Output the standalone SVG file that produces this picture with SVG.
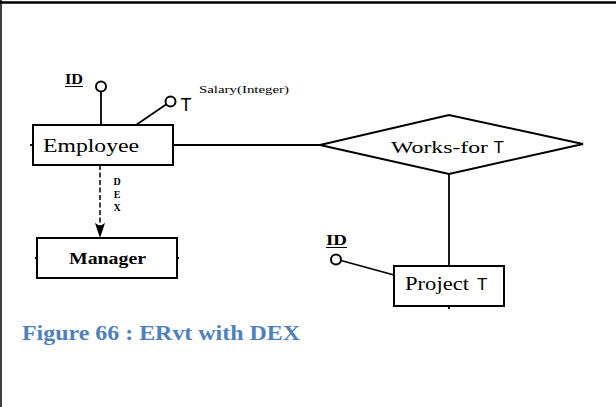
<svg xmlns="http://www.w3.org/2000/svg" width="616" height="407" viewBox="0 0 616 407">
<defs>
<style>
.box{fill:#fff;stroke:#000;stroke-width:2}
.ln{fill:none;stroke:#000;stroke-width:1.8}
.attr{fill:#fff;stroke:#000;stroke-width:2}
.ser{font-family:"Liberation Serif","Times New Roman",serif;fill:#000}
.sans{font-family:"Liberation Sans",Arial,sans-serif;fill:#000}
.b{font-weight:bold}
</style>
</defs>
<rect x="0" y="0" width="616" height="407" fill="#fff"/>
<line x1="0" y1="2.5" x2="616" y2="2.5" stroke="#000" stroke-width="2.5"/>
<line x1="1" y1="0" x2="1" y2="407" stroke="#000" stroke-width="1.5"/>

<g id="connectors">
<line class="ln" x1="101" y1="91.5" x2="101" y2="125"/>
<line class="ln" x1="136" y1="125" x2="166" y2="104.5"/>
<line class="ln" x1="173" y1="145" x2="320" y2="145"/>
<line class="ln" x1="449" y1="174" x2="449" y2="266"/>
<line class="ln" x1="341" y1="260.5" x2="394" y2="275"/>
<line x1="100" y1="165" x2="100" y2="226" stroke="#000" stroke-width="1.5" stroke-dasharray="5 2.5"/>
<path d="M95,223 L100,238 L105,223 L100,226 Z" fill="#000"/>
<text class="ser b" x="117" y="185" font-size="10" text-anchor="middle">D</text>
<text class="ser b" x="117" y="198" font-size="10" text-anchor="middle">E</text>
<text class="ser b" x="117" y="211" font-size="10" text-anchor="middle">X</text>
</g>

<g id="employee">
<rect class="box" x="33" y="125" width="140" height="40"/>
<line class="ln" x1="30" y1="145" x2="33" y2="145"/>
<text class="ser" x="43" y="152" font-size="19" textLength="96" lengthAdjust="spacingAndGlyphs">Employee</text>
</g>

<g id="employee-id">
<circle class="attr" cx="101" cy="86.5" r="5"/>
<text class="ser b" x="65" y="84" font-size="14" textLength="18" lengthAdjust="spacingAndGlyphs">ID</text>
<line x1="65" y1="86.5" x2="83" y2="86.5" stroke="#000" stroke-width="1"/>
</g>

<g id="employee-salary">
<circle class="attr" cx="170.5" cy="101.5" r="5"/>
<text class="sans" x="180.5" y="111" font-size="18">T</text>
<text class="ser" x="199" y="93" font-size="11" textLength="90" lengthAdjust="spacingAndGlyphs">Salary(Integer)</text>
</g>

<g id="manager">
<rect class="box" x="37" y="238" width="140" height="40"/>
<line class="ln" x1="35" y1="258" x2="37" y2="258"/>
<line class="ln" x1="177" y1="258" x2="179" y2="258"/>
<text class="ser b" x="69" y="264" font-size="17" textLength="77" lengthAdjust="spacingAndGlyphs">Manager</text>
</g>

<g id="works-for">
<polygon class="box" points="320,145 449,115 583,144 449,174"/>
<text class="ser" x="391" y="153" font-size="17" textLength="97" lengthAdjust="spacingAndGlyphs">Works-for</text>
<text class="sans" x="493.5" y="153" font-size="17">T</text>
</g>

<g id="project">
<rect class="box" x="394" y="266" width="110" height="40"/>
<line class="ln" x1="449" y1="306" x2="449" y2="309"/>
<text class="ser" x="405" y="290" font-size="18" textLength="64" lengthAdjust="spacingAndGlyphs">Project</text>
<text class="sans" x="477" y="290" font-size="17">T</text>
</g>

<g id="project-id">
<circle class="attr" cx="336" cy="259.5" r="5"/>
<text class="ser b" x="326" y="245" font-size="14" textLength="21" lengthAdjust="spacingAndGlyphs">ID</text>
<line x1="326" y1="247.5" x2="347" y2="247.5" stroke="#000" stroke-width="1"/>
</g>

<text class="ser b" x="22" y="340" font-size="20" style="fill:#4F81BD" textLength="278" lengthAdjust="spacingAndGlyphs">Figure 66 : ERvt with DEX</text>
</svg>
